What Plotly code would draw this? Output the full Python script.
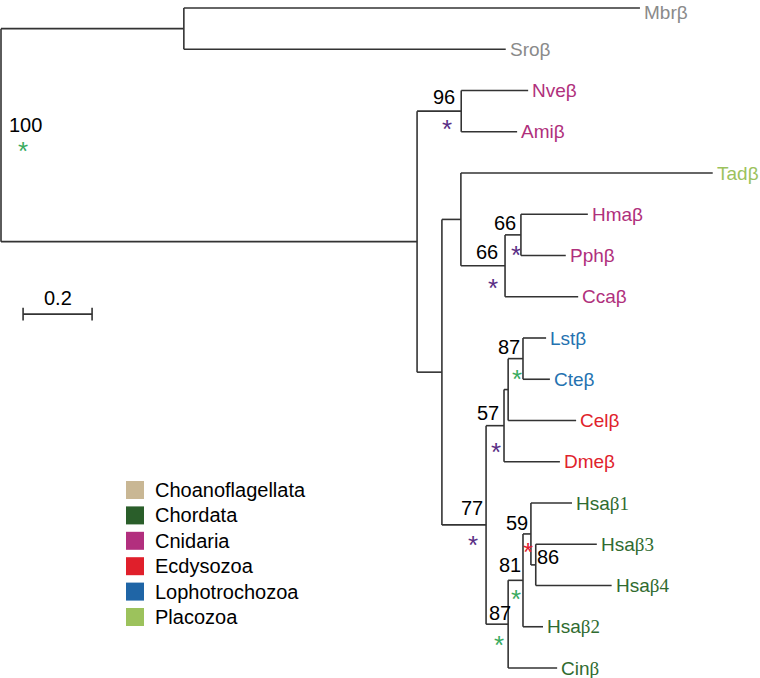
import plotly.graph_objects as go

# tree: node id, parent, branch length (substitutions per site)
node_ids = ["root", "n1", "Mbr", "Sro", "n2", "n3", "Nve", "Ami", "n4", "n5", "Tad", "n6", "n7", "Hma", "Pph", "Cca",
            "n8", "n9", "n10", "n11", "Lst", "Cte", "Cel", "Dme", "n12", "n13", "n14", "Hsa1", "n15", "Hsa3", "Hsa4",
            "Hsa2", "Cin"]
parent_ids = [None, "root", "n1", "n1", "root", "n2", "n3", "n3", "n2", "n4", "n5", "n5", "n6", "n7", "n7", "n6",
              "n4", "n8", "n9", "n10", "n11", "n11", "n10", "n9", "n8", "n12", "n13", "n14", "n14", "n15", "n15",
              "n13", "n12"]
branch_lengths = [0, 0.530, 1.322, 0.933, 1.206, 0.128, 0.194, 0.162, 0.072, 0.055, 0.730, 0.128, 0.046, 0.194,
                  0.130, 0.212, 0.128, 0.052, 0.012, 0.043, 0.067, 0.078, 0.197, 0.162, 0.064, 0.043, 0.023, 0.119,
                  0.014, 0.177, 0.220, 0.058, 0.142]

tip_ids = ["Mbr", "Sro", "Nve", "Ami", "Tad", "Hma", "Pph", "Cca", "Lst", "Cte", "Cel", "Dme",
           "Hsa1", "Hsa3", "Hsa4", "Hsa2", "Cin"]
tip_groups = ["Choanoflagellata", "Choanoflagellata", "Cnidaria", "Cnidaria", "Placozoa", "Cnidaria", "Cnidaria",
              "Cnidaria", "Lophotrochozoa", "Lophotrochozoa", "Ecdysozoa", "Ecdysozoa",
              "Chordata", "Chordata", "Chordata", "Chordata", "Chordata"]

support_nodes = ["root", "n3", "n7", "n6", "n11", "n9", "n8", "n14", "n15", "n13", "n12"]
support_values = [100, 96, 66, 66, 87, 57, 77, 59, 86, 81, 87]
star_nodes = ["root", "n3", "n7", "n6", "n11", "n9", "n8", "n14", "n13", "n12"]
star_kinds = ["green", "purple", "purple", "purple", "green", "purple", "purple", "red", "green", "green"]

legend_groups = ["Choanoflagellata", "Chordata", "Cnidaria", "Ecdysozoa", "Lophotrochozoa", "Placozoa"]
legend_colors = ["#c9b794", "#2a5e2a", "#b22f7e", "#e01f2b", "#1f65a6", "#9cc25c"]
label_colors = {"Choanoflagellata": "#8a8a8a", "Chordata": "#2f6b2f", "Cnidaria": "#b0307c",
                "Ecdysozoa": "#e0222c", "Lophotrochozoa": "#2472b0", "Placozoa": "#9cc25c"}
star_colors = {"green": "#3aab5f", "purple": "#5a2e85", "red": "#e22030"}

scale_length = 0.2

# label placement (pixels relative to node)
num_off = {"root": (24, -10), "n3": (-17, -14), "n7": (-16, -12), "n6": (-18, -14), "n11": (-14, -12),
           "n9": (-16, -13), "n8": (-14, -17), "n14": (-14, -11), "n15": (12, -8), "n13": (-13, -15),
           "n12": (-8, -11)}
star_off = {"root": (22, 10), "n3": (-14, 12), "n7": (-5, 14), "n6": (-12, 16), "n11": (-6, 14), "n9": (-8, 20),
            "n8": (-13, 14), "n14": (-3, 12), "n13": (-7, 13), "n12": (-9, 15)}
tip_nudge = {"Mbr": -4}  # keep top label inside the page

FONT = "Arial, Liberation Sans, sans-serif"
FS = 20

# --- tree layout
children = {n: [] for n in node_ids}
blen = dict(zip(node_ids, branch_lengths))
for n, p in zip(node_ids, parent_ids):
    if p is not None:
        children[p].append(n)

xpos, ypos = {}, {}
leaf_counter = [0]


def place(n, x):
    xpos[n] = x
    if not children[n]:
        ypos[n] = leaf_counter[0]
        leaf_counter[0] += 1
        return
    for c in children[n]:
        place(c, x + blen[c])
    ys = [ypos[c] for c in children[n]]
    ypos[n] = (min(ys) + max(ys)) / 2


place("root", 0.0)

lx, ly = [], []
for n in node_ids:
    if children[n]:
        ys = [ypos[c] for c in children[n]]
        lx += [xpos[n], xpos[n], None]
        ly += [min(ys), max(ys), None]
        for c in children[n]:
            lx += [xpos[n], xpos[c], None]
            ly += [ypos[c], ypos[c], None]

fig = go.Figure()
fig.add_trace(go.Scatter(x=lx, y=ly, mode="lines", line=dict(color="#333333", width=1.6),
                         hoverinfo="skip", showlegend=False))

# scale bar
sb_x0, sb_y = 0.064, 7.42
fig.add_trace(go.Scatter(x=[sb_x0, sb_x0 + scale_length], y=[sb_y, sb_y], mode="lines+markers",
                         line=dict(color="#333333", width=1.6),
                         marker=dict(symbol="line-ns-open", size=9, line=dict(color="#333333", width=1.6)),
                         hoverinfo="skip", showlegend=False))
fig.add_annotation(x=sb_x0 + scale_length / 2, y=sb_y, text=str(scale_length), showarrow=False, yshift=16,
                   font=dict(size=FS, color="black", family=FONT))

# tip labels
for t, g in zip(tip_ids, tip_groups):
    name = t.rstrip("0123456789")
    suffix = t[len(name):]
    if g == "Chordata":
        text = name + "<span style='font-family:Liberation Serif, Times New Roman, serif'>β" + suffix + "</span>"
    else:
        text = name + "β" + suffix
    fig.add_annotation(x=xpos[t], y=ypos[t], text=text, showarrow=False, xanchor="left", xshift=3,
                       yshift=tip_nudge.get(t, 0), borderpad=0,
                       font=dict(size=19, color=label_colors[g], family=FONT))

# bootstrap values
for n, v in zip(support_nodes, support_values):
    dx, dy = num_off[n]
    fig.add_annotation(x=xpos[n], y=ypos[n], text=str(v), showarrow=False, xshift=dx, yshift=-dy,
                       font=dict(size=FS, color="black", family=FONT))

for n, k in zip(star_nodes, star_kinds):
    dx, dy = star_off[n]
    fig.add_annotation(x=xpos[n], y=ypos[n], text="*", showarrow=False, xshift=dx, yshift=-dy - 6,
                       font=dict(size=26, color=star_colors[k], family=FONT))

# legend
W, H = 760, 678
for i, (g, c) in enumerate(zip(legend_groups, legend_colors)):
    yc = 490 + 25.4 * i
    fig.add_shape(type="rect", xref="paper", yref="paper", x0=126 / W, x1=144 / W,
                  y0=1 - (yc - 9) / H, y1=1 - (yc + 9) / H, fillcolor=c, line=dict(width=0))
    fig.add_annotation(xref="paper", yref="paper", x=153 / W, y=1 - yc / H, text=g, showarrow=False,
                       xanchor="left", yanchor="middle", font=dict(size=FS, color="black", family=FONT))

fig.update_layout(
    width=W, height=H, margin=dict(l=0, r=0, t=0, b=0),
    plot_bgcolor="white", paper_bgcolor="white",
    xaxis=dict(range=[-1 / 345, 759 / 345], visible=False, fixedrange=True),
    yaxis=dict(range=[(H - 8) / 41.25, -8 / 41.25], visible=False, fixedrange=True),
)

fig.write_html("out.html", config={"displayModeBar": False},
               post_script="document.body.style.margin='0px';")
